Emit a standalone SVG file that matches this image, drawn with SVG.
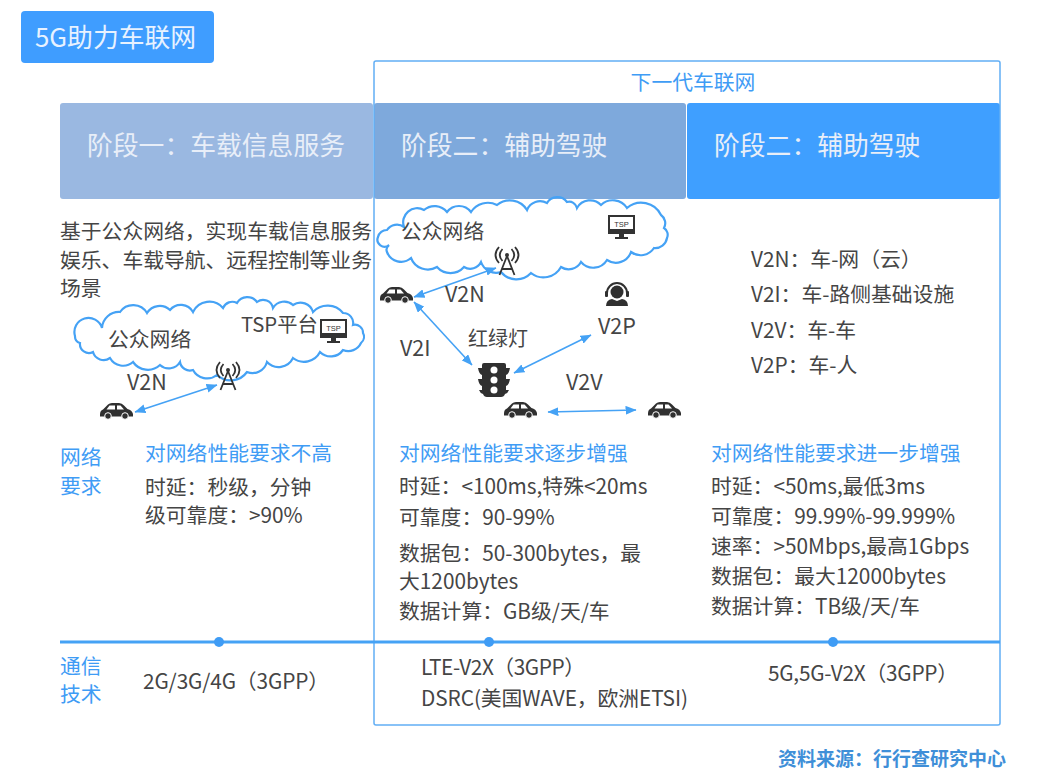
<svg xmlns="http://www.w3.org/2000/svg" width="1037" height="773" viewBox="0 0 1037 773">
<style>
text{font-family:"Noto Sans CJK SC","Noto Sans",sans-serif;font-size:20.8px;fill:#454545}
.h{font-size:25.800px;fill:#e8eef8}
.b{fill:#3f9cf5}
.l{font-size:21.500px}
.cloud{fill:none;stroke:#45a2f5;stroke-width:2.2}
.arr{fill:none;stroke:#45a2f5;stroke-width:1.6;marker-start:url(#ah);marker-end:url(#ah)}
</style>
<defs>
<marker id="ah" viewBox="0 0 10 8" refX="9.5" refY="4" markerUnits="userSpaceOnUse" markerWidth="11" markerHeight="9" orient="auto-start-reverse"><path d="M0 0L10 4L0 8Z" fill="#45a2f5"/></marker>
<g id="car"><path d="M0 11.5Q0 7.5 3 6.5L8 1.5Q9.5 0 12 0H19Q22 0 24 2.500L27.500 6Q32 7 33 11V13.500H0Z" fill="#303030"/><path d="M9.500 2.500H15V6.500H6.500ZM17 2.500H20.500L24 6.500H17Z" fill="#fff"/><circle cx="8" cy="13" r="3.300" fill="#303030" stroke="#fff"/><circle cx="25" cy="13" r="3.300" fill="#303030" stroke="#fff"/></g>
<g id="tsp"><rect x="1" y="1" width="25" height="17" fill="#fff" stroke="#333" stroke-width="2"/><rect x="0" y="14" width="27" height="4.500" fill="#333"/><rect x="11" y="18" width="5" height="4" fill="#333"/><rect x="7" y="22" width="13" height="2" fill="#333"/><text x="13.500" y="12" text-anchor="middle" style="font-family:'Liberation Sans',sans-serif;font-size:7.500px;fill:#333">TSP</text></g>
<g id="tower" fill="none" stroke="#333" stroke-width="1.800"><path d="M13 9L5.500 28M13 9L20.500 28M8 22H18"/><path d="M8.500 2Q3 8 8.500 14M17.500 2Q23 8 17.500 14M5 0Q-2 8 5 16M21 0Q28 8 21 16"/><circle cx="13" cy="8" r="2" fill="#333" stroke="none"/></g>
</defs>
<rect width="1037" height="773" fill="#fff"/>
<g id="title"><rect x="21" y="11" width="193" height="52" rx="4" fill="#3f9dff"/><text x="35" y="47" style="font-size:25.800px;fill:#e8f2ff">5G助力车联网</text></g>
<g id="stage1"><rect x="60" y="103" width="313" height="96" rx="3" fill="#9ab8e1"/><text class="h" x="87" y="155">阶段一：车载信息服务</text></g>
<g id="stage2"><rect x="374" y="103" width="312" height="96" rx="3" fill="#7ea9dc"/><text class="h" x="401" y="155">阶段二：辅助驾驶</text></g>
<g id="stage3"><rect x="687" y="103" width="313" height="96" rx="3" fill="#3f9fff"/><text class="h" x="714" y="155">阶段二：辅助驾驶</text></g>
<g id="frame"><rect x="374" y="61" width="626" height="664" rx="2" fill="none" stroke="#62aef5" stroke-width="1.500"/><text x="693" y="90" text-anchor="middle" style="fill:#3f9cf5">下一代车联网</text></g>
<g id="desc"><text x="60" y="239">基于公众网络，实现车载信息服务</text><text x="60" y="268">娱乐、车载导航、远程控制等业务</text><text x="60" y="296">场景</text></g>
<g id="cloud1"><path class="cloud" d="M75 336A14 14 0 0 1 102 328A17 17 0 0 1 120 312A16 16 0 0 1 147 313A15 15 0 0 1 170 310A14 14 0 0 1 193 312A18 18 0 0 1 223 308A10 10 0 0 1 237 303A12 12 0 0 1 257 302A10 10 0 0 1 273 308A13 13 0 0 1 293 305A13 13 0 0 1 313 312A20 20 0 0 1 343 313A10 10 0 0 1 353 325A8 8 0 0 1 363 333A8 8 0 0 1 361 343A14 14 0 0 1 343 350A15 15 0 0 1 320 352A18 18 0 0 1 293 358A16 16 0 0 1 267 362A15 15 0 0 1 247 372A20 20 0 0 1 217 375A16 16 0 0 1 193 370A10 10 0 0 1 180 362A13 13 0 0 1 160 365A18 18 0 0 1 133 362A15 15 0 0 1 110 358A11 11 0 0 1 93 352A9 9 0 0 1 80 343A7 7 0 0 1 75 336Z"/><text x="108" y="347">公众网络</text><text x="241" y="332" style="font-size:20.300px">TSP平台</text><use href="#tsp" x="320" y="319"/></g>
<g id="tower1"><use href="#tower" x="215" y="362"/></g>
<g id="car1"><use href="#car" x="100" y="403"/><text class="l" x="127" y="390">V2N</text></g>
<g id="cloud2"><path class="cloud" d="M378 237A9 9 0 0 1 387 230A12 12 0 0 1 404 227A14 14 0 0 1 424 210A16 16 0 0 1 447 212A15 15 0 0 1 471 212A20 20 0 0 1 497 205A20 20 0 0 1 527 210A14 14 0 0 1 547 203A12 12 0 0 1 567 202A8 8 0 0 1 577 208A15 15 0 0 1 601 205A17 17 0 0 1 627 208A22 22 0 0 1 661 215A10 10 0 0 1 664 228A8 8 0 0 1 667 238A12 12 0 0 1 654 248A16 16 0 0 1 631 252A16 16 0 0 1 607 260A16 16 0 0 1 581 262A14 14 0 0 1 561 267A20 20 0 0 1 531 273A20 20 0 0 1 501 272A16 16 0 0 1 481 262A12 12 0 0 1 464 267A18 18 0 0 1 437 267A18 18 0 0 1 411 258A15 15 0 0 1 387 252A6 6 0 0 1 389 245A7 7 0 0 1 378 237Z"/><text x="401" y="239">公众网络</text><use href="#tsp" x="608" y="215"/></g>
<g id="tower2"><use href="#tower" x="494" y="247"/></g>
<g id="car2"><use href="#car" x="380" y="287"/></g>
<g id="car3"><use href="#car" x="504" y="402"/></g>
<g id="car4"><use href="#car" x="648" y="402"/></g>
<g id="light"><path d="M484 363H504Q506 363 506 365V368H510Q509 374 506 375V379H510Q509 385 506 386V390H509Q508 393 505 394Q504 397 501 397H487Q484 397 483 394Q480 393 479 390H482V386Q479 385 478 379H482V375Q479 374 478 368H482V365Q482 363 484 363Z" fill="#303030"/><circle cx="494" cy="370" r="3.500" fill="#fff"/><circle cx="494" cy="380" r="3.500" fill="#fff"/><circle cx="494" cy="390" r="3.500" fill="#fff"/></g>
<g id="person" fill="#303030"><circle cx="617" cy="292" r="6.500"/><path d="M607 293A10 10 0 0 1 627 293" fill="none" stroke="#303030" stroke-width="2"/><rect x="605" y="291" width="3" height="6" rx="1"/><rect x="626" y="291" width="3" height="6" rx="1"/><path d="M606 306Q606 300 612 299L617 301L622 299Q628 300 628 306Z"/></g>
<g id="connectors">
<path class="arr" d="M135 412L217 385"/>
<path class="arr" d="M414 297L496 268"/>
<path class="arr" d="M414 302L472 365"/>
<path class="arr" d="M514 373L591 335"/>
<path class="arr" d="M548 412L636 410"/>
<path d="M60 642H1000" fill="none" stroke="#45a2f5" stroke-width="3"/>
</g>
<g id="dots" fill="#3f9cf5"><circle cx="219" cy="642" r="5"/><circle cx="489" cy="642" r="5"/><circle cx="833" cy="642" r="5"/></g>
<g id="labels"><text class="l" x="445" y="302">V2N</text><text class="l" x="400" y="356">V2I</text><text x="468" y="346" style="font-size:20px">红绿灯</text><text class="l" x="598" y="334">V2P</text><text class="l" x="566" y="390">V2V</text></g>
<g id="v2x"><text x="751" y="267">V2N：车-网（云）</text><text x="751" y="302">V2I：车-路侧基础设施</text><text x="751" y="338">V2V：车-车</text><text x="751" y="373">V2P：车-人</text></g>
<g id="req-label"><text x="60" y="465" style="fill:#3f9cf5">网络</text><text x="60" y="494" style="fill:#3f9cf5">要求</text></g>
<g id="req1"><text x="145" y="461" style="fill:#3f9cf5">对网络性能要求不高</text><text x="145" y="495">时延：秒级，分钟</text><text x="145" y="523">级可靠度：&gt;90%</text></g>
<g id="req2"><text x="399" y="461" style="fill:#3f9cf5">对网络性能要求逐步增强</text><text x="399" y="494">时延：&lt;100ms,特殊&lt;20ms</text><text x="399" y="525">可靠度：90-99%</text><text x="399" y="561">数据包：50-300bytes，最</text><text x="399" y="589">大1200bytes</text><text x="399" y="619">数据计算：GB级/天/车</text></g>
<g id="req3"><text x="711" y="461" style="fill:#3f9cf5">对网络性能要求进一步增强</text><text x="711" y="494">时延：&lt;50ms,最低3ms</text><text x="711" y="524">可靠度：99.99%-99.999%</text><text x="711" y="554">速率：&gt;50Mbps,最高1Gbps</text><text x="711" y="584">数据包：最大12000bytes</text><text x="711" y="614">数据计算：TB级/天/车</text></g>
<g id="tech"><text x="60" y="674" style="fill:#3f9cf5">通信</text><text x="60" y="702" style="fill:#3f9cf5">技术</text><text x="143" y="689" textLength="186">2G/3G/4G（3GPP）</text><text x="421" y="675" textLength="164">LTE-V2X（3GPP）</text><text x="421" y="706" textLength="267">DSRC(美国WAVE，欧洲ETSI)</text><text x="768" y="681" textLength="190">5G,5G-V2X（3GPP）</text></g>
<text id="source" x="1006" y="766" text-anchor="end" style="font-size:19px;font-weight:700;fill:#3f8fd8">资料来源：行行查研究中心</text>
</svg>
